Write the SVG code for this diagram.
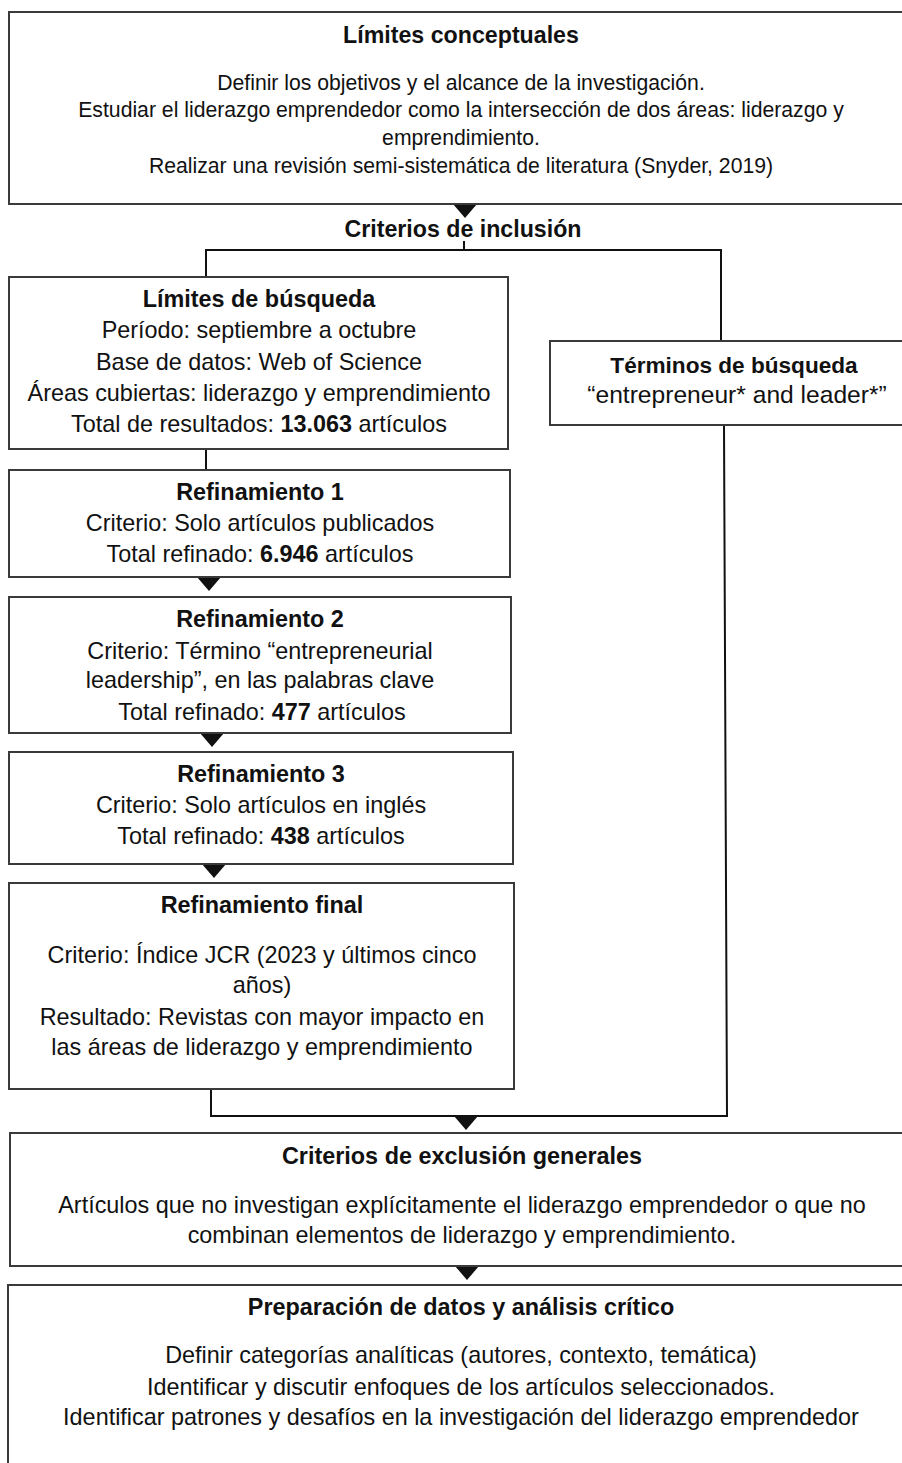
<svg xmlns="http://www.w3.org/2000/svg" width="902" height="1463" viewBox="0 0 902 1463">
<style>
  .box { fill: #ffffff; stroke: #3a3a3a; stroke-width: 2; }
  .t { font-family: "Liberation Sans", Arial, sans-serif; font-size: 23.4px; fill: #111; text-anchor: middle; }
  .b { font-weight: bold; }
  .s { font-size: 21.2px; }
  .tt { font-size: 23.2px; }
  .conn { fill: none; stroke: #111; stroke-width: 2; }
  .ah { fill: #111; }
</style>
<defs>
  <path id="ah" d="M-12,0 L12,0 L0,14 Z"/>
</defs>
<rect width="902" height="1463" fill="#ffffff"/>

<g id="connectors">
  <path class="conn" d="M464,241 V250"/>
  <path class="conn" d="M206,277 V250 H721 V341"/>
  <path class="conn" d="M206,449 V470"/>
  <path class="conn" d="M211,1089 V1116 H727 L724,425"/>
  <use href="#ah" class="ah" x="465" y="204"/>
  <use href="#ah" class="ah" x="209" y="577"/>
  <use href="#ah" class="ah" x="212" y="733"/>
  <use href="#ah" class="ah" x="214" y="864"/>
  <use href="#ah" class="ah" x="466" y="1116"/>
  <use href="#ah" class="ah" x="467" y="1266"/>
</g>

<g id="limites-conceptuales">
  <rect class="box" x="9" y="12" width="900" height="192"/>
  <text class="t b tt" x="461" y="43">Límites conceptuales</text>
  <text class="t s" x="461" y="90">Definir los objetivos y el alcance de la investigación.</text>
  <text class="t s" x="461" y="117">Estudiar el liderazgo emprendedor como la intersección de dos áreas: liderazgo y</text>
  <text class="t s" x="461" y="145">emprendimiento.</text>
  <text class="t s" x="461" y="173">Realizar una revisión semi-sistemática de literatura (Snyder, 2019)</text>
</g>

<g id="criterios-inclusion">
  <text class="t b tt" x="463" y="237">Criterios de inclusión</text>
</g>

<g id="limites-busqueda">
  <rect class="box" x="9" y="277" width="499" height="172"/>
  <text class="t b" x="259" y="307">Límites de búsqueda</text>
  <text class="t" x="259" y="338">Período: septiembre a octubre</text>
  <text class="t" x="259" y="370">Base de datos: Web of Science</text>
  <text class="t" x="259" y="401">Áreas cubiertas: liderazgo y emprendimiento</text>
  <text class="t" x="259" y="432">Total de resultados: <tspan class="b">13.063</tspan> artículos</text>
</g>

<g id="terminos-busqueda">
  <rect class="box" x="550" y="341" width="360" height="84"/>
  <text class="t b" x="734" y="373" style="font-size:22.6px">Términos de búsqueda</text>
  <text class="t" x="737" y="403" style="font-size:24.6px">“entrepreneur* and leader*”</text>
</g>

<g id="refinamiento-1">
  <rect class="box" x="9" y="470" width="501" height="107"/>
  <text class="t b" x="260" y="500">Refinamiento 1</text>
  <text class="t" x="260" y="531">Criterio: Solo artículos publicados</text>
  <text class="t" x="260" y="562">Total refinado: <tspan class="b">6.946</tspan> artículos</text>
</g>

<g id="refinamiento-2">
  <rect class="box" x="9" y="597" width="502" height="136"/>
  <text class="t b" x="260" y="627">Refinamiento 2</text>
  <text class="t" x="260" y="659">Criterio: Término “entrepreneurial</text>
  <text class="t" x="260" y="688">leadership”, en las palabras clave</text>
  <text class="t" x="262" y="720">Total refinado: <tspan class="b">477</tspan> artículos</text>
</g>

<g id="refinamiento-3">
  <rect class="box" x="9" y="752" width="504" height="112"/>
  <text class="t b" x="261" y="782">Refinamiento 3</text>
  <text class="t" x="261" y="813">Criterio: Solo artículos en inglés</text>
  <text class="t" x="261" y="844">Total refinado: <tspan class="b">438</tspan> artículos</text>
</g>

<g id="refinamiento-final">
  <rect class="box" x="9" y="883" width="505" height="206"/>
  <text class="t b" x="262" y="913">Refinamiento final</text>
  <text class="t" x="262" y="963">Criterio: Índice JCR (2023 y últimos cinco</text>
  <text class="t" x="262" y="993">años)</text>
  <text class="t" x="262" y="1025">Resultado: Revistas con mayor impacto en</text>
  <text class="t" x="262" y="1055">las áreas de liderazgo y emprendimiento</text>
</g>

<g id="criterios-exclusion">
  <rect class="box" x="10" y="1133" width="900" height="133"/>
  <text class="t b" x="462" y="1164">Criterios de exclusión generales</text>
  <text class="t" x="462" y="1213">Artículos que no investigan explícitamente el liderazgo emprendedor o que no</text>
  <text class="t" x="462" y="1243">combinan elementos de liderazgo y emprendimiento.</text>
</g>

<g id="preparacion-datos">
  <rect class="box" x="8" y="1285" width="900" height="200"/>
  <text class="t b" x="461" y="1315">Preparación de datos y análisis crítico</text>
  <text class="t" x="461" y="1363">Definir categorías analíticas (autores, contexto, temática)</text>
  <text class="t" x="461" y="1395">Identificar y discutir enfoques de los artículos seleccionados.</text>
  <text class="t" x="461" y="1425">Identificar patrones y desafíos en la investigación del liderazgo emprendedor</text>
</g>
</svg>
